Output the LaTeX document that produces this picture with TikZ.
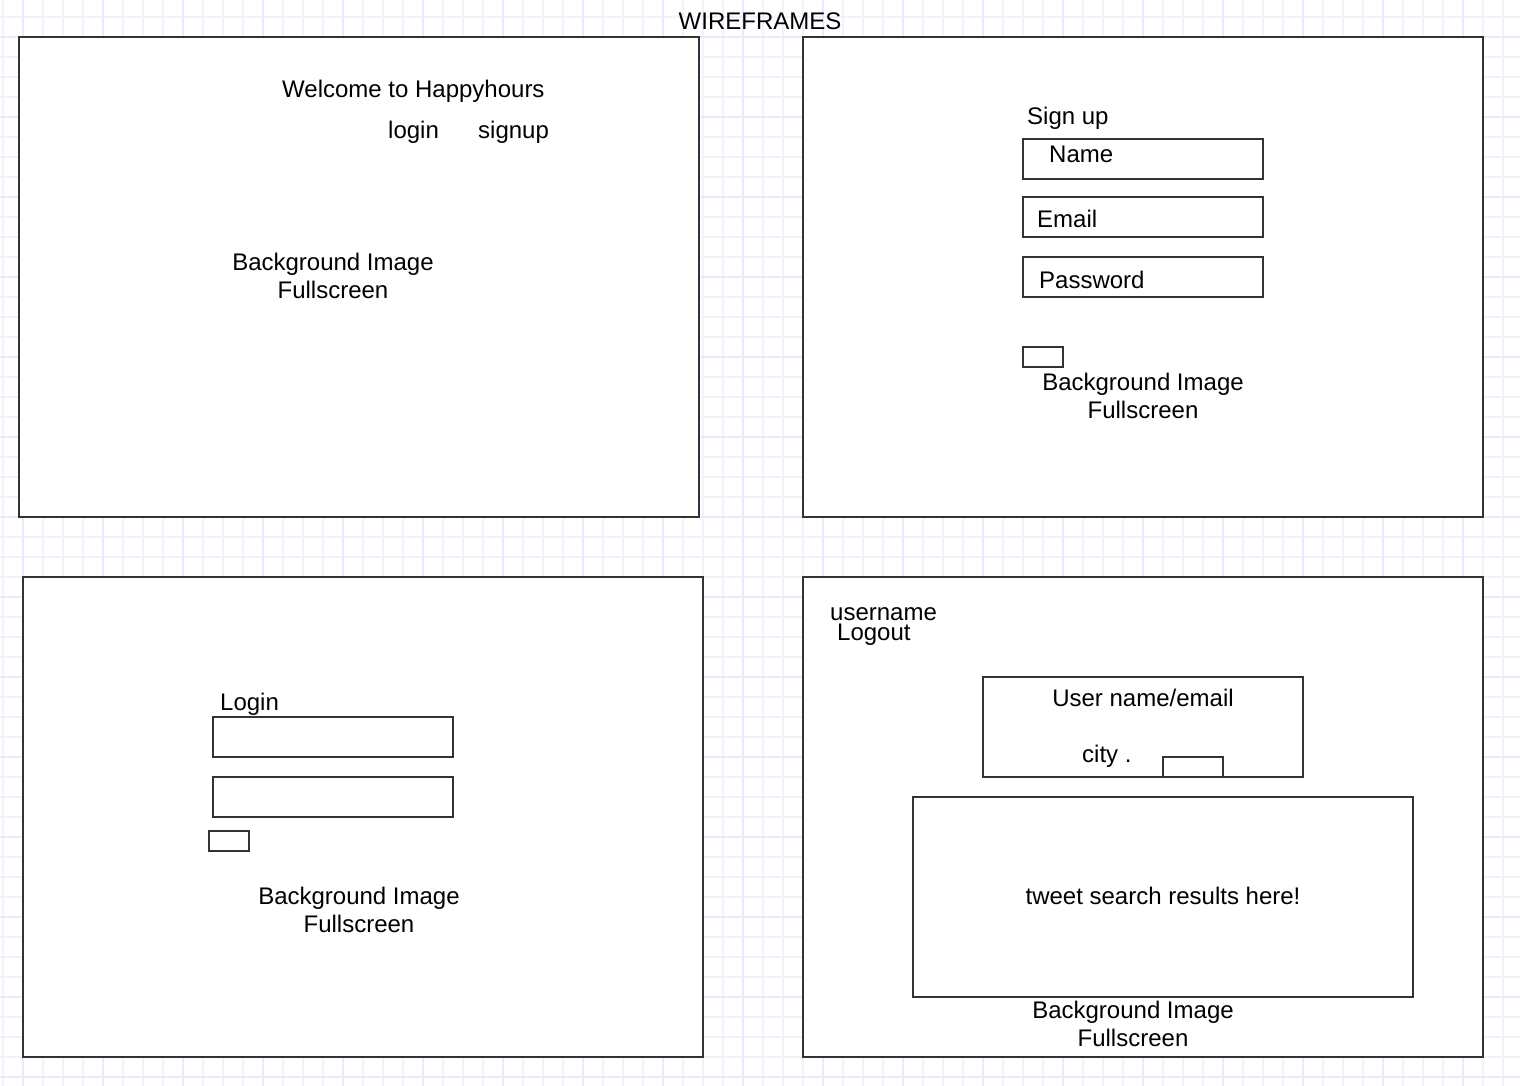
\documentclass[tikz,border=0pt]{standalone}
\usepackage{fontspec}
\setmainfont{Liberation Sans}
\definecolor{gridminor}{RGB}{242,242,255}
\definecolor{gridmajor}{RGB}{234,234,255}
\definecolor{stroke}{RGB}{51,51,51}
\begin{document}
\begin{tikzpicture}[x=1pt,y=-1pt,
  frame/.style={draw=stroke, line width=2pt, fill=white, rectangle, inner sep=0pt},
  field/.style={draw=stroke, line width=2pt, fill=white, rectangle, inner sep=0pt},
  lbl/.style={inner sep=0pt, anchor=base, font=\fontsize{24}{28}\selectfont},
  lbll/.style={lbl, anchor=base west}]
\useasboundingbox (0,0) rectangle (1520,1086);
\fill[white] (0,0) rectangle (1520,1086);
% grid
\foreach \x in {3,23,...,1503} \draw[gridminor, line width=1.5pt] (\x,0) -- (\x,1086);
\foreach \y in {17,37,...,1077} \draw[gridminor, line width=1.5pt] (0,\y) -- (1520,\y);
\foreach \x in {23,103,...,1503} \draw[gridmajor, line width=1.5pt] (\x,0) -- (\x,1086);
\foreach \y in {37,117,...,1077} \draw[gridmajor, line width=1.5pt] (0,\y) -- (1520,\y);

% title
\node[lbl] (title) at (760,29.5) {WIREFRAMES};

% frames
\node[frame, minimum width=680pt, minimum height=480pt] (f1) at (359,277) {};
\node[frame, minimum width=680pt, minimum height=480pt] (f2) at (1143,277) {};
\node[frame, minimum width=680pt, minimum height=480pt] (f3) at (363,817) {};
\node[frame, minimum width=680pt, minimum height=480pt] (f4) at (1143,817) {};

% frame 1: welcome
\node[lbll] (welcome) at (282,98) {Welcome to Happyhours};
\node[lbll] (loginlink) at (388,138.5) {login};
\node[lbll] (signuplink) at (478,138.5) {signup};
\node[lbl] (bg1a) at (333,270) {Background Image};
\node[lbl] (bg1b) at (333,298) {Fullscreen};

% frame 2: sign up
\node[lbll] (signup) at (1027,124.5) {Sign up};
\node[field, minimum width=240pt, minimum height=40pt] (namebox) at (1143,159) {};
\node[field, minimum width=240pt, minimum height=40pt] (emailbox) at (1143,217) {};
\node[field, minimum width=240pt, minimum height=40pt] (pwbox) at (1143,277) {};
\node[lbll] (namet) at (1049,163) {Name};
\node[lbll] (emailt) at (1037,227) {Email};
\node[lbll] (pwt) at (1039,288) {Password};
\node[field, minimum width=40pt, minimum height=20pt] (sbtn) at (1043,357) {};
\node[lbl] (bg2a) at (1143,390.5) {Background Image};
\node[lbl] (bg2b) at (1143,418.5) {Fullscreen};

% frame 3: login
\node[lbll] (login) at (220,710.5) {Login};
\node[field, minimum width=240pt, minimum height=40pt] (lbox1) at (333,737) {};
\node[field, minimum width=240pt, minimum height=40pt] (lbox2) at (333,797) {};
\node[field, minimum width=40pt, minimum height=20pt] (lbtn) at (229,841) {};
\node[lbl] (bg3a) at (359,904.5) {Background Image};
\node[lbl] (bg3b) at (359,932.5) {Fullscreen};

% frame 4: search
\node[lbll] (uname) at (830,620) {username};
\node[lbll] (logout) at (837,640) {Logout};
\node[field, minimum width=320pt, minimum height=100pt] (ubox) at (1143,727) {};
\node[lbl] (ubt) at (1143,706.5) {User name/email};
\node[lbll] (city) at (1082,762.5) {city .};
\node[field, minimum width=60pt, minimum height=20pt] (cbtn) at (1193,767) {};
\node[field, minimum width=500pt, minimum height=200pt] (results) at (1163,897) {};
\node[lbl] (rest) at (1163,904.5) {tweet search results here!};
\node[lbl] (bg4a) at (1133,1018.5) {Background Image};
\node[lbl] (bg4b) at (1133,1046.5) {Fullscreen};
\end{tikzpicture}
\end{document}
